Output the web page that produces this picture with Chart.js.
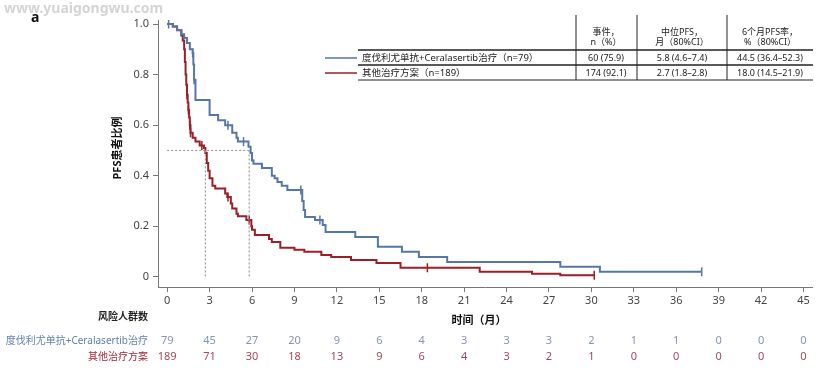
<!DOCTYPE html>
<html>
<head>
<meta charset="utf-8">
<script src="https://cdn.jsdelivr.net/npm/chart.js@4.4.1/dist/chart.umd.min.js"></script>
<style>
	body { margin: 0; background: #fff; }
	#wrap { width: 828px; height: 372px; }
</style>
</head>
<body>
<div id="wrap"><canvas id="pfsChart" width="828" height="372"></canvas></div>
<script>
// ================================ [ Data ] ================================

// 度伐利尤单抗+Ceralasertib治疗 KM curve (month, PFS)
const comboTimes = [0, 0.4, 0.7, 1.0, 1.2, 1.4, 1.6, 1.8, 1.85, 1.9, 2.0, 3.0, 3.6, 4.1, 4.6, 4.9, 5.0, 5.75, 5.9, 6.0, 6.1, 6.7, 7.4, 7.6, 7.8, 8.1, 8.5, 9.55, 9.65, 9.75, 10.45, 11.0, 11.2, 13.3, 14.9, 16.6, 17.8, 19.8, 27.8, 30.6, 37.8];
const comboSurv  = [1.0, 0.99, 0.976, 0.96, 0.945, 0.925, 0.90, 0.885, 0.84, 0.78, 0.70, 0.64, 0.62, 0.60, 0.57, 0.55, 0.535, 0.515, 0.49, 0.46, 0.447, 0.431, 0.40, 0.39, 0.375, 0.36, 0.344, 0.30, 0.265, 0.237, 0.225, 0.205, 0.178, 0.158, 0.119, 0.099, 0.079, 0.059, 0.040, 0.020, 0.020];
const comboCensor = [0.1, 1.8, 1.9, 4.3, 5.4, 9.45, 10.8, 37.8];

// 其他治疗方案 KM curve
const otherTimes = [0, 0.4, 0.7, 1.0, 1.1, 1.2, 1.25, 1.3, 1.35, 1.4, 1.45, 1.5, 1.55, 1.6, 1.65, 1.8, 2.0, 2.3, 2.6, 2.7, 2.8, 2.9, 3.0, 3.2, 3.4, 4.1, 4.25, 4.5, 4.6, 4.9, 5.0, 5.6, 5.95, 6.0, 6.2, 7.2, 7.4, 8.0, 9.0, 9.7, 10.9, 11.6, 13.0, 14.8, 16.5, 22.1, 25.8, 27.8, 30.2];
const otherSurv  = [1.0, 0.99, 0.975, 0.955, 0.935, 0.90, 0.85, 0.80, 0.76, 0.72, 0.69, 0.66, 0.63, 0.60, 0.57, 0.55, 0.535, 0.52, 0.51, 0.49, 0.45, 0.42, 0.39, 0.36, 0.35, 0.33, 0.316, 0.29, 0.27, 0.25, 0.24, 0.225, 0.20, 0.186, 0.166, 0.15, 0.138, 0.115, 0.107, 0.099, 0.087, 0.079, 0.067, 0.055, 0.036, 0.020, 0.012, 0.006, 0.006];
const otherCensor = [1.4, 1.5, 1.6, 1.65, 2.45, 4.3, 5.8, 18.4, 30.2];

// median PFS (months)
const medianCombo = 5.8;
const medianOther = 2.7;

// axis ticks
const xTicks = [0, 3, 6, 9, 12, 15, 18, 21, 24, 27, 30, 33, 36, 39, 42, 45];
const yTicks = [0, 0.2, 0.4, 0.6, 0.8, 1.0];

// number at risk
const riskCombo = [79, 45, 27, 20, 9, 6, 4, 3, 3, 3, 2, 1, 1, 0, 0, 0];
const riskOther = [189, 71, 30, 18, 13, 9, 6, 4, 3, 2, 1, 0, 0, 0, 0, 0];

// summary table
const seriesNames = ["度伐利尤单抗+Ceralasertib治疗（n=79）", "其他治疗方案（n=189）"];
const riskNames = ["度伐利尤单抗+Ceralasertib治疗", "其他治疗方案"];
const tableHead = [["事件，", "n（%）"], ["中位PFS，", "月（80%CI）"], ["6个月PFS率，", "%（80%CI）"]];
const comboStats = ["60 (75.9)", "5.8 (4.6–7.4)", "44.5 (36.4–52.3)"];
const otherStats = ["174 (92.1)", "2.7 (1.8–2.8)", "18.0 (14.5–21.9)"];

// ================================ [ Helpers ] ================================

const FONT = '"Noto Sans", "Noto Sans CJK SC", sans-serif';
const BLUE = "#5577a8";
const RED = "#9a1f26";

const toPoints = (xs, ys) => xs.map((x, i) => ({ x: x, y: ys[i] }));

// value of a step curve at time t
const stepAt = (xs, ys, t) => {
	let v = ys[0];
	for (let i = 0; i < xs.length; i++) {
		if (xs[i] <= t) v = ys[i];
	}
	return v;
}

const censorPoints = (cs, xs, ys) => cs.map(t => ({ x: t, y: stepAt(xs, ys, t) }));

// ================================ [ Plugin : table + risk ] ================================

const extrasPlugin = {
	id: "extras",
	afterDraw: (chart) => {
		const ctx = chart.ctx;
		const xs = chart.scales.x;
		ctx.save();

		// watermark + panel letter
		ctx.fillStyle = "#d4d4d4";
		ctx.font = "bold 14px " + FONT;
		ctx.textAlign = "left";
		ctx.textBaseline = "middle";
		ctx.fillText("www.yuaigongwu.com", 4, 9);
		ctx.fillStyle = "#111";
		ctx.font = "bold 14px " + FONT;
		ctx.fillText("a", 31, 18);

		// axis titles
		ctx.font = "bold 11px " + FONT;
		ctx.textAlign = "center";
		ctx.fillText("时间（月）", 479, 321);
		ctx.save();
		ctx.translate(118, 148);
		ctx.rotate(-Math.PI / 2);
		ctx.fillText("PFS患者比例", 0, 0);
		ctx.restore();

		// number at risk
		ctx.textAlign = "right";
		ctx.fillStyle = "#222";
		ctx.font = "bold 10px " + FONT;
		ctx.fillText("风险人群数", 148, 317);
		ctx.font = "10px " + FONT;
		ctx.fillStyle = "#5f80b4";
		ctx.fillText(riskNames[0], 148, 341);
		ctx.fillStyle = "#a02a3a";
		ctx.fillText(riskNames[1], 148, 357);
		ctx.font = "11px " + FONT;
		ctx.textAlign = "center";
		xTicks.forEach((m, i) => {
			const px = xs.getPixelForValue(m);
			ctx.fillStyle = "#8594b4";
			ctx.fillText(riskCombo[i], px, 341);
			ctx.fillStyle = "#a5475a";
			ctx.fillText(riskOther[i], px, 357);
		});

		// summary table lines
		ctx.strokeStyle = "#222";
		ctx.lineWidth = 1.5;
		[50, 65].forEach(y => {
			ctx.beginPath(); ctx.moveTo(358, y); ctx.lineTo(813, y); ctx.stroke();
		});
		ctx.lineWidth = 1;
		ctx.beginPath(); ctx.moveTo(358, 80); ctx.lineTo(813, 80); ctx.stroke();
		[576, 637, 727].forEach(x => {
			ctx.beginPath(); ctx.moveTo(x, 15); ctx.lineTo(x, 80); ctx.stroke();
		});

		// legend swatches
		ctx.lineWidth = 1.5;
		ctx.strokeStyle = BLUE;
		ctx.beginPath(); ctx.moveTo(325, 58); ctx.lineTo(357, 58); ctx.stroke();
		ctx.strokeStyle = RED;
		ctx.beginPath(); ctx.moveTo(325, 73); ctx.lineTo(357, 73); ctx.stroke();

		// table text
		ctx.fillStyle = "#222";
		ctx.font = "9.5px " + FONT;
		ctx.textAlign = "left";
		ctx.fillText(seriesNames[0], 362, 58);
		ctx.fillText(seriesNames[1], 362, 73);
		const colX = [606, 682, 770];
		ctx.textAlign = "center";
		ctx.font = "9px " + FONT;
		tableHead.forEach((h, i) => {
			ctx.fillText(h[0], colX[i], 32);
			ctx.fillText(h[1], colX[i], 42);
			ctx.fillText(comboStats[i], colX[i], 58);
			ctx.fillText(otherStats[i], colX[i], 73);
		});

		ctx.restore();
	}
}

// ================================ [ Chart ] ================================

const dotted = {
	borderColor: "#9a9a9a",
	borderWidth: 1.2,
	borderDash: [2, 2],
	pointRadius: 0,
	fill: false
}

const pfsChart = new Chart(document.getElementById("pfsChart"), {
	type: "line",
	data: {
		datasets: [
			{ ...dotted, data: [{ x: 0, y: 0.5 }, { x: medianCombo, y: 0.5 }] },
			{ ...dotted, data: [{ x: medianOther, y: 0.5 }, { x: medianOther, y: 0 }] },
			{ ...dotted, data: [{ x: medianCombo, y: 0.5 }, { x: medianCombo, y: 0 }] },
			{
				label: "combo",
				data: toPoints(comboTimes, comboSurv),
				borderColor: BLUE,
				borderWidth: 2,
				stepped: true,
				pointRadius: 0,
				fill: false
			},
			{
				label: "other",
				data: toPoints(otherTimes, otherSurv),
				borderColor: RED,
				borderWidth: 2,
				stepped: true,
				pointRadius: 0,
				fill: false
			},
			{
				type: "scatter",
				data: censorPoints(comboCensor, comboTimes, comboSurv),
				pointStyle: "line",
				rotation: 90,
				radius: 4.5,
				borderColor: BLUE,
				borderWidth: 1.5,
				showLine: false
			},
			{
				type: "scatter",
				data: censorPoints(otherCensor, otherTimes, otherSurv),
				pointStyle: "line",
				rotation: 90,
				radius: 4.5,
				borderColor: RED,
				borderWidth: 1.5,
				showLine: false
			}
		]
	},
	options: {
		responsive: false,
		animation: false,
		devicePixelRatio: 1,
		layout: { padding: { left: 0, right: 16, top: 20, bottom: 63 } },
		plugins: {
			legend: { display: false },
			tooltip: { enabled: false }
		},
		scales: {
			x: {
				type: "linear",
				min: -0.65,
				max: 45.6,
				afterBuildTicks: (axis) => { axis.ticks = xTicks.map(v => ({ value: v })); },
				afterFit: (axis) => { axis.height = 22; },
				border: { color: "#777", width: 1 },
				grid: { drawOnChartArea: false, tickLength: 5, color: "#777" },
				ticks: { color: "#444", font: { family: FONT, size: 11 }, padding: 2, maxRotation: 0 }
			},
			y: {
				type: "linear",
				min: -0.04,
				max: 1.016,
				afterBuildTicks: (axis) => { axis.ticks = yTicks.map(v => ({ value: v })); },
				afterFit: (axis) => { axis.width = 158; },
				border: { color: "#777", width: 1 },
				grid: { drawOnChartArea: false, tickLength: 5, color: "#777" },
				ticks: {
					color: "#444",
					font: { family: FONT, size: 11 },
					padding: 4,
					callback: (v) => v === 0 ? "0" : v.toFixed(1)
				}
			}
		}
	},
	plugins: [extrasPlugin]
});
</script>
</body>
</html>
